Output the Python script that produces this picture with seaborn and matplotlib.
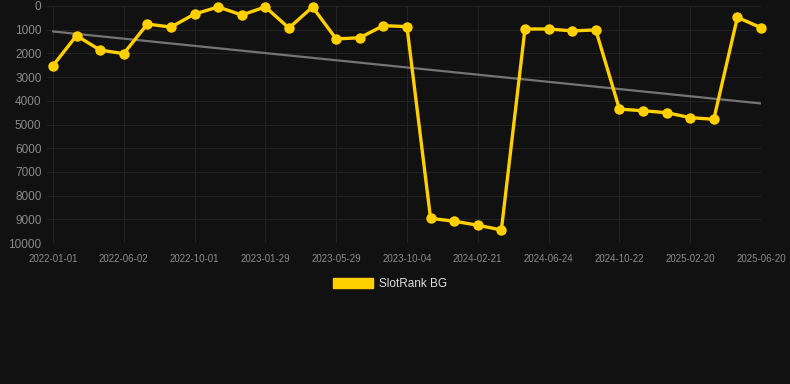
import matplotlib
matplotlib.use("Agg")
import matplotlib.pyplot as plt
import matplotlib.patches as mpatches
import seaborn as sns
import numpy as np
import pandas as pd

# Data
rank_values = [2520, 1250, 1860, 2010, 760, 890, 340, 40, 380, 40, 930, 40,
               1390, 1340, 830, 870, 8960, 9080, 9250, 9450, 970, 970, 1050, 1010,
               4350, 4420, 4500, 4710, 4780, 480, 915]
tick_labels = ["2022-01-01", "2022-06-02", "2022-10-01", "2023-01-29", "2023-05-29",
               "2023-10-04", "2024-02-21", "2024-06-24", "2024-10-22", "2025-02-20",
               "2025-06-20"]
series_name = "SlotRank BG"
y_ticks = list(range(0, 10001, 1000))

BG = "#111111"
YELLOW = "#FFD000"
GRID = "#222222"
TICK = "#8a8a8a"

sns.set_theme(style="dark")
plt.rcParams['font.family'] = ['Liberation Sans', 'DejaVu Sans']

df = pd.DataFrame({"idx": np.arange(len(rank_values)), "rank": rank_values})

fig = plt.figure(figsize=(7.9, 3.84), dpi=100, facecolor=BG)
ax = fig.add_axes([47/790, 1-243/384, (761-47)/790, (243-6)/384])
ax.set_facecolor(BG)

# trend line
sns.regplot(data=df, x="idx", y="rank", scatter=False, ci=None, ax=ax,
            line_kws=dict(color="#747474", lw=1.6, zorder=2))

sns.lineplot(data=df, x="idx", y="rank", ax=ax, color=YELLOW, lw=2.4,
             marker="o", markersize=7.5, markeredgewidth=0, zorder=3, clip_on=False)

ax.set_ylim(10000, 0)
ax.set_xlim(-0.25, len(rank_values) - 1)
ax.set_yticks(y_ticks)
ax.set_yticklabels([str(v) for v in y_ticks], fontsize=8.5, color=TICK)
ax.set_xticks(np.arange(0, len(rank_values), 3))
ax.set_xticklabels(tick_labels, fontsize=7, color=TICK)
ax.set_xlabel("")
ax.set_ylabel("")
ax.grid(True, color=GRID, lw=0.8)
ax.tick_params(axis="y", length=0, pad=4)
ax.tick_params(axis="x", length=5, color=GRID, pad=3, width=0.8)
for s in ax.spines.values():
    s.set_visible(False)

handle = mpatches.Patch(facecolor=YELLOW, edgecolor=YELLOW, label=series_name)
fig.legend(handles=[handle], loc="center", bbox_to_anchor=(390/790, 1-284/384),
           frameon=False, fontsize=8.5, labelcolor="#dddddd",
           handlelength=3.4, handleheight=1.0, handletextpad=0.5)

fig.savefig("out.png", dpi=100, facecolor=BG)
